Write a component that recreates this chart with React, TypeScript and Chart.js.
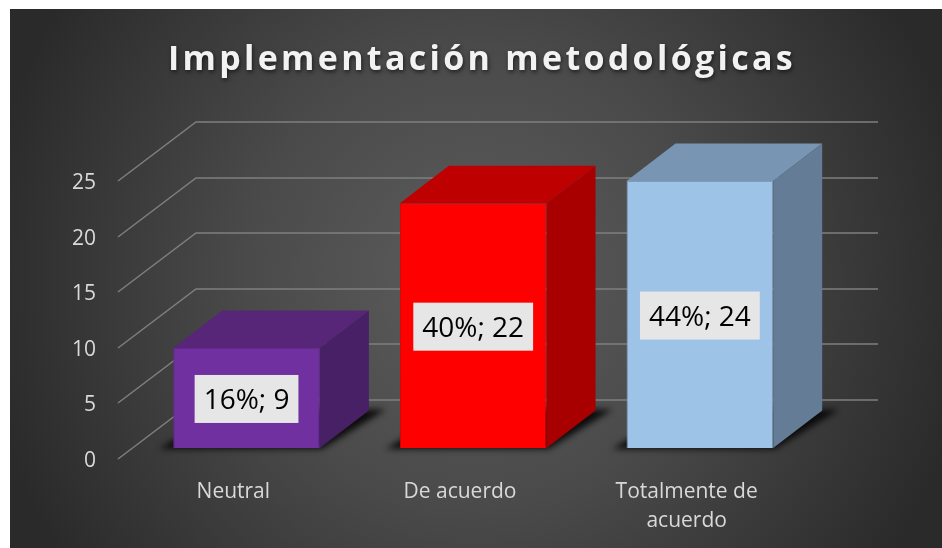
import React, { useEffect, useRef } from "react";
import { Chart, registerables } from "chart.js";

Chart.register(...registerables);

const categories: (string | string[])[] = ["Neutral", "De acuerdo", ["Totalmente de", "acuerdo"]];
const values = [9, 22, 24];
const percents = ["16%", "40%", "44%"];
const frontColors = ["#7030A0", "#FF0000", "#9DC3E6"];
const topColors = ["#572679", "#BF0000", "#7896B4"];
const sideColors = ["#482065", "#A80000", "#657C96"];
const edgeColors = ["#63298E", "#E00000", "#7F9DBA"];

const FONT = "'Open Sans', 'Noto Sans', sans-serif";
const FLOOR_SHIFT_X = 13.2;
const FLOOR_SHIFT_Y = -10;
const BAR_DX = 49;
const BAR_DY = -37.5;
const WALL_DX = 76;
const WALL_DY = -58;
const WALL_RIGHT = 878;

const threeD = {
  id: "threeD",
  beforeDraw(chart: any) {
    const { ctx } = chart;
    ctx.save();
    ctx.fillStyle = "#ffffff";
    ctx.fillRect(0, 0, 942, 548);
    const g = ctx.createRadialGradient(476, 278, 10, 476, 278, 500);
    g.addColorStop(0, "#5C5C5C");
    g.addColorStop(0.45, "#4A4A4A");
    g.addColorStop(1, "#2A2A2A");
    ctx.fillStyle = g;
    ctx.fillRect(10, 9, 932, 539);
    ctx.restore();
    const tb = chart.titleBlock;
    if (tb && !tb.__patched) {
      const orig = tb.draw;
      tb.draw = function () {
        ctx.save();
        ctx.translate(82, 0);
        ctx.letterSpacing = "3.3px";
        ctx.shadowColor = "rgba(0,0,0,0.6)";
        ctx.shadowBlur = 4;
        ctx.shadowOffsetX = 1;
        ctx.shadowOffsetY = 2;
        orig.call(this);
        ctx.restore();
      };
      tb.__patched = true;
    }
    const ys = chart.scales.y;
    if (ys && !ys.__patched) {
      const origLabels = ys.drawLabels;
      ys.drawLabels = function (area: any) {
        ctx.save();
        ctx.translate(0, 3);
        origLabels.call(this, area);
        ctx.restore();
      };
      ys.__patched = true;
    }
  },
  beforeDatasetsDraw(chart: any) {
    const { ctx, chartArea, scales } = chart;
    ctx.save();
    ctx.strokeStyle = "#7F7F7F";
    ctx.lineWidth = 1.5;
    for (const t of scales.y.ticks) {
      const y = Math.round(scales.y.getPixelForValue(t.value));
      ctx.beginPath();
      ctx.moveTo(chartArea.left - 2, y + 1);
      ctx.lineTo(chartArea.left + WALL_DX, y + WALL_DY);
      ctx.lineTo(WALL_RIGHT, y + WALL_DY);
      ctx.stroke();
    }
    ctx.restore();

    const meta = chart.getDatasetMeta(0);
    ctx.save();
    ctx.translate(FLOOR_SHIFT_X, FLOOR_SHIFT_Y);
    meta.data.forEach((bar: any) => {
      const x0 = bar.x - bar.width / 2;
      const x1 = bar.x + bar.width / 2;
      ctx.save();
      ctx.filter = "blur(3px)";
      ctx.fillStyle = "rgba(8,8,8,0.95)";
      ctx.beginPath();
      ctx.moveTo(x0 - 14, bar.base + 1);
      ctx.lineTo(x1 + 2, bar.base + 1);
      ctx.lineTo(x1 + BAR_DX + 17, bar.base + BAR_DY - 1);
      ctx.lineTo(x0 + BAR_DX, bar.base + BAR_DY - 1);
      ctx.closePath();
      ctx.fill();
      ctx.restore();
    });
    meta.data.forEach((bar: any, i: number) => {
      const x0 = bar.x - bar.width / 2;
      const x1 = bar.x + bar.width / 2;
      const yT = bar.y;
      const yB = bar.base;
      ctx.fillStyle = topColors[i];
      ctx.beginPath();
      ctx.moveTo(x0, yT);
      ctx.lineTo(x0 + BAR_DX, yT + BAR_DY);
      ctx.lineTo(x1 + BAR_DX, yT + BAR_DY);
      ctx.lineTo(x1, yT);
      ctx.closePath();
      ctx.fill();
      ctx.fillStyle = sideColors[i];
      ctx.beginPath();
      ctx.moveTo(x1, yT);
      ctx.lineTo(x1 + BAR_DX, yT + BAR_DY);
      ctx.lineTo(x1 + BAR_DX, yB + BAR_DY);
      ctx.lineTo(x1, yB);
      ctx.closePath();
      ctx.fill();
    });
  },
  afterDatasetsDraw(chart: any) {
    const { ctx } = chart;
    ctx.restore();
    const meta = chart.getDatasetMeta(0);
    ctx.save();
    ctx.font = `28px ${FONT}`;
    ctx.textAlign = "center";
    ctx.textBaseline = "middle";
    meta.data.forEach((bar: any, i: number) => {
      const text = `${percents[i]}; ${values[i]}`;
      const cx = bar.x + FLOOR_SHIFT_X;
      const cy = (bar.y + bar.base) / 2 + FLOOR_SHIFT_Y + 1;
      const w = ctx.measureText(text).width + 18;
      const h = 48;
      ctx.fillStyle = "#E6E6E6";
      ctx.fillRect(cx - w / 2, cy - h / 2, w, h);
      ctx.fillStyle = "#000000";
      ctx.fillText(text, cx, cy + 2);
    });
    ctx.restore();
  },
};

export default function App() {
  const ref = useRef<HTMLCanvasElement>(null);
  useEffect(() => {
    const chart = new Chart(ref.current!, {
      type: "bar",
      data: {
        labels: categories as any,
        datasets: [
          {
            data: values,
            backgroundColor: frontColors,
            borderColor: edgeColors,
            borderWidth: 1,
            barPercentage: 1,
            categoryPercentage: 0.647,
          },
        ],
      },
      options: {
        animation: false,
        responsive: false,
        layout: { padding: { left: 0, right: 142, top: 0, bottom: 0 } },
        plugins: {
          legend: { display: false },
          tooltip: { enabled: false },
          title: {
            display: true,
            text: "Implementación metodológicas",
            color: "#F2F2F2",
            font: { family: FONT, size: 34, weight: "bold", lineHeight: 1.2 },
            padding: { top: 40, bottom: 99.2 },
          },
        },
        scales: {
          x: {
            grid: { display: false },
            border: { display: false },
            ticks: {
              color: "#D9D9D9",
              maxRotation: 0,
              autoSkip: false,
              padding: 12,
              font: { family: FONT, size: 21, lineHeight: 1.38 },
            },
            afterFit(s: any) {
              s.height = 90;
            },
          },
          y: {
            min: 0,
            max: 25,
            grid: { display: false },
            border: { display: false },
            ticks: {
              color: "#D9D9D9",
              stepSize: 5,
              padding: 16,
              font: { family: FONT, size: 21 },
            },
            afterFit(s: any) {
              s.width = 120;
            },
          },
        },
      },
      plugins: [threeD],
    } as any);
    return () => chart.destroy();
  }, []);
  return (
    <div style={{ position: "absolute", left: 0, top: 0, width: 942, height: 548 }}>
      <canvas ref={ref} width={942} height={548} style={{ display: "block" }} />
    </div>
  );
}
